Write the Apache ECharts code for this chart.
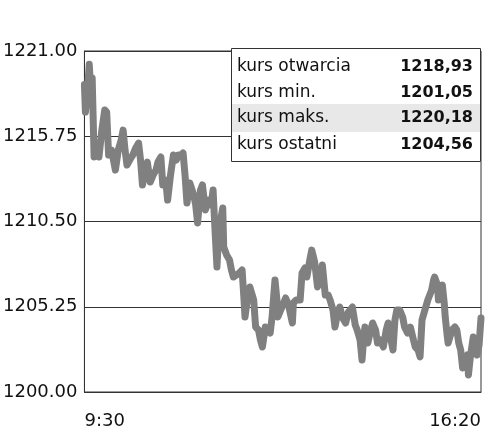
<!DOCTYPE html>
<html>
<head>
<meta charset="utf-8">
<script src="https://cdn.jsdelivr.net/npm/echarts@6/dist/echarts.min.js"></script>
<style>
html,body{margin:0;padding:0;background:#fff;}
#chart{width:500px;height:445px;}
</style>
</head>
<body>
<div id="chart"></div>
<script>
// minutes after 9:30
const minutes = [0,1,3,5,7,8,10,13,15,18,21,23,25,28,30,32,35,38,40,42,44,48,50,53,56,58,60,63,65,68,71,74,76,79,81,84,86,89,92,95,97,100,102,104,106,109,113,115,117,120,122,125,128,131,133,135,137,139,143,144,147,150,152,154,157,160,163,165,166,169,171,175,177,180,182,184,187,190,192,194,197,199,200,203,208,211,215,216,219,223,225,228,230,233,235,238,241,244,246,249,252,254,257,259,262,264,267,270,273,277,280,282,285,287,289,290,293,296,298,301,303,306,309,312,314,317,319,321,323,326,329,331,334,337,340,342,345,347,349,352,355,357,359,361,362,365,366,368,370,372,373,375,376,380,383,385,387,389,391,394,396,397,399,402,404,406,408,410];
const prices = [1218.93,1217.24,1218.47,1220.18,1217.98,1219.34,1214.47,1214.90,1214.47,1216.13,1217.37,1217.24,1214.59,1214.90,1214.29,1213.67,1214.90,1215.52,1216.13,1214.90,1213.98,1214.41,1214.59,1215.03,1215.33,1214.29,1212.75,1213.67,1214.16,1212.93,1213.36,1213.67,1214.16,1214.47,1212.75,1213.05,1211.82,1213.36,1214.59,1214.29,1214.59,1214.59,1214.72,1213.36,1211.64,1212.87,1212.13,1211.52,1210.41,1212.44,1212.75,1211.21,1211.82,1211.52,1212.44,1209.98,1207.70,1209.98,1211.33,1208.93,1208.44,1208.13,1207.51,1207.08,1207.20,1207.33,1207.51,1205.67,1204.62,1205.97,1206.47,1205.67,1204.00,1203.82,1203.20,1202.77,1204.00,1203.82,1203.63,1204.62,1206.90,1205.67,1204.62,1205.05,1205.79,1205.36,1204.25,1205.48,1205.67,1205.67,1207.33,1207.64,1207.08,1208.13,1208.74,1208.01,1206.47,1207.20,1207.82,1205.97,1205.97,1205.67,1205.05,1204.00,1204.93,1205.23,1204.56,1204.25,1204.93,1205.23,1204.13,1203.82,1203.20,1201.97,1203.51,1204.00,1203.02,1203.82,1204.25,1203.82,1203.02,1203.20,1202.77,1203.82,1204.25,1203.20,1202.59,1204.43,1205.05,1205.05,1204.62,1204.00,1203.63,1204.00,1203.25,1202.77,1202.59,1202.16,1204.43,1205.05,1205.67,1205.79,1206.28,1206.90,1207.08,1206.59,1205.67,1206.28,1206.59,1205.48,1204.62,1203.51,1203.02,1203.82,1204.00,1203.82,1203.02,1202.59,1201.48,1201.97,1202.28,1201.05,1202.16,1203.39,1202.89,1202.28,1202.89,1204.56];
const yTicks = [1200.00, 1205.25, 1210.50, 1215.75, 1221.00];
const xTickLabels = ['9:30', '16:20'];
const tableLabels = ['kurs otwarcia', 'kurs min.', 'kurs maks.', 'kurs ostatni'];
const tableValues = ['1218,93', '1201,05', '1220,18', '1204,56'];

const seriesData = minutes.map((m, i) => [m, prices[i]]);
const FONT = 'DejaVu Sans';

const graphics = [
  {type:'rect', shape:{x:231.5, y:48.5, width:249, height:113}, style:{fill:'#fff', stroke:'#333', lineWidth:1}, z:10},
  {type:'rect', shape:{x:232, y:104, width:248, height:28}, style:{fill:'#e8e8e8'}, z:11}
];
const rowY = [67, 93, 118, 145];
tableLabels.forEach((t, i) => {
  graphics.push({type:'text', x:237, y:rowY[i], z:12,
    style:{text:t, fill:'#111', font:'17px "' + FONT + '"', textVerticalAlign:'middle', textAlign:'left'}});
  graphics.push({type:'text', x:473, y:rowY[i], z:12,
    style:{text:tableValues[i], fill:'#111', font:'bold 16px "' + FONT + '"', textVerticalAlign:'middle', textAlign:'right'}});
});

const chart = echarts.init(document.getElementById('chart'), null, {renderer:'canvas'});
chart.setOption({
  animation:false,
  backgroundColor:'#fff',
  grid:{left:84, right:19, top:51, bottom:53, show:true, borderColor:'#333', borderWidth:1, backgroundColor:'transparent'},
  xAxis:{
    type:'value', min:0, max:410, interval:410,
    axisLine:{show:true, lineStyle:{color:'#333', width:1}},
    axisTick:{show:false},
    splitLine:{show:false},
    axisLabel:{
      color:'#111', fontFamily:FONT, fontSize:18, margin:20,
      formatter: v => v === 0 ? xTickLabels[0] : (v === 410 ? xTickLabels[1] : ''),
      alignMinLabel:'left', alignMaxLabel:'right'
    }
  },
  yAxis:{
    type:'value', min:yTicks[0], max:yTicks[yTicks.length-1], interval:5.25,
    axisLine:{show:true, lineStyle:{color:'#333', width:1}},
    axisTick:{show:false},
    splitLine:{show:true, lineStyle:{color:'#333', width:1}},
    axisLabel:{color:'#111', fontFamily:FONT, fontSize:18, margin:7, formatter: v => v.toFixed(2)}
  },
  series:[{
    type:'line', data:seriesData, showSymbol:false, symbol:'none',
    lineStyle:{color:'#808080', width:7, join:'round', cap:'round'},
    z:5
  }],
  graphic:graphics
});
</script>
</body>
</html>
